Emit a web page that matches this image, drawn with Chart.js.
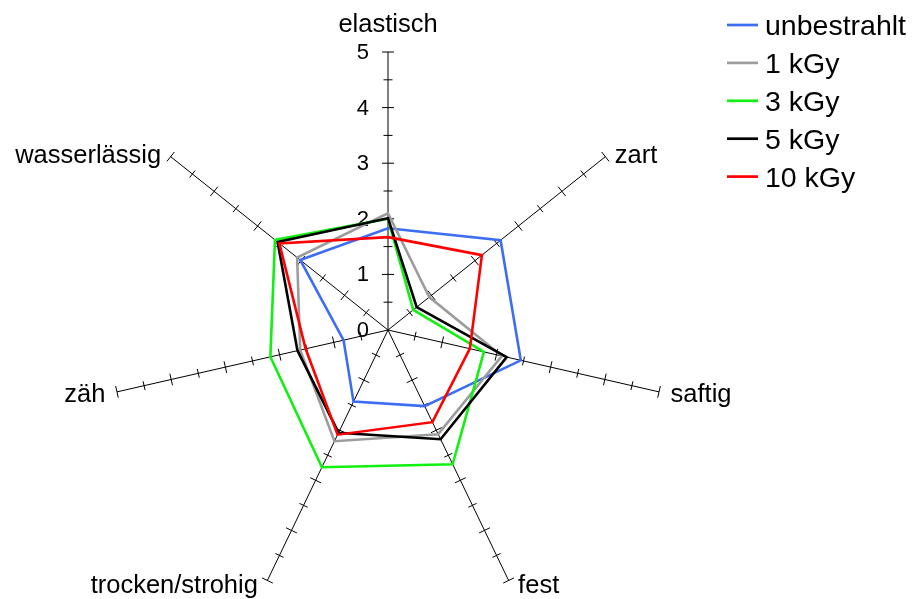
<!DOCTYPE html>
<html>
<head>
<meta charset="utf-8">
<script src="https://cdn.jsdelivr.net/npm/chart.js@4/dist/chart.umd.min.js"></script>
<style>
  html, body { margin: 0; padding: 0; background: #ffffff; }
  #wrap { width: 913px; height: 599px; }
</style>
</head>
<body>
<div id="wrap"><canvas id="c" width="913" height="599"></canvas></div>
<script>
// Sensory attributes (spokes, clockwise from the top)
const attributes = ['elastisch', 'zart', 'saftig', 'fest', 'trocken/strohig', 'zäh', 'wasserlässig'];

// Mean panel scores per irradiation dose
const seriesNames = ['unbestrahlt', '1 kGy', '3 kGy', '5 kGy', '10 kGy'];
const unbestrahlt = [1.83, 2.59, 2.45, 1.52, 1.43, 0.82, 2.02];
const dose1kGy    = [2.10, 0.95, 2.10, 2.08, 2.22, 1.62, 2.09];
const dose3kGy    = [2.00, 0.58, 1.77, 2.68, 2.74, 2.17, 2.60];
const dose5kGy    = [2.01, 0.66, 2.19, 2.18, 2.05, 1.67, 2.54];
const dose10kGy   = [1.67, 2.16, 1.51, 1.84, 2.09, 1.52, 2.50];

// Scale labels shown on the "elastisch" spoke
const tickValues = [0, 1, 2, 3, 4, 5];

const seriesValues = [unbestrahlt, dose1kGy, dose3kGy, dose5kGy, dose10kGy];
const seriesColors = ['#3d6df2', '#9c9c9c', '#12f012', '#000000', '#ff0000'];
// later doses are painted above earlier ones
const drawOrder = [4, 3, 2, 1, 0];

const FONT = '"Liberation Sans", Arial, Helvetica, sans-serif';

// Spoke decorations: tick marks, value labels, attribute names
const spokeDecor = {
  id: 'spokeDecor',
  beforeDatasetsDraw(chart) {
    const r = chart.scales.r;
    const ctx = chart.ctx;
    const n = attributes.length;
    ctx.save();
    ctx.strokeStyle = '#000';
    ctx.lineWidth = 1;
    // cross ticks every half unit on every spoke
    for (let i = 0; i < n; i++) {
      for (let k = 1; k <= r.max * 2; k++) {
        const v = k / 2;
        const p = r.getPointPositionForValue(i, v);
        const half = (k % 2 === 0) ? 6 : 4.5;
        const nx = -Math.sin(p.angle), ny = Math.cos(p.angle);
        ctx.beginPath();
        ctx.moveTo(p.x - nx * half, p.y - ny * half);
        ctx.lineTo(p.x + nx * half, p.y + ny * half);
        ctx.stroke();
      }
    }
    // numeric labels on the first spoke
    ctx.fillStyle = '#000';
    ctx.font = '22px ' + FONT;
    ctx.textAlign = 'right';
    ctx.textBaseline = 'middle';
    tickValues.forEach(v => {
      const p = r.getPointPositionForValue(0, v);
      ctx.fillText(String(v), p.x - 19, p.y + 1);
    });
    // attribute names at the spoke ends
    ctx.font = '25.5px ' + FONT;
    ctx.textBaseline = 'alphabetic';
    for (let i = 0; i < n; i++) {
      const p = r.getPointPosition(i, r.drawingArea);
      const c = Math.cos(p.angle), s = Math.sin(p.angle);
      if (Math.abs(c) < 0.1) {
        ctx.textAlign = 'center';
        ctx.fillText(attributes[i], p.x, p.y - 20);
      } else {
        ctx.textAlign = c > 0 ? 'left' : 'right';
        const gap = Math.abs(s) < 0.4 ? 11.5 : 9.5;
        ctx.fillText(attributes[i], p.x + (c > 0 ? gap : -gap), p.y + 9 + 4 * s);
      }
    }
    ctx.restore();
  },
  afterDraw(chart) {
    // legend: short coloured line followed by the dose name
    const ctx = chart.ctx;
    ctx.save();
    ctx.font = '28.5px ' + FONT;
    ctx.textAlign = 'left';
    ctx.textBaseline = 'alphabetic';
    chart.data.datasets.forEach((ds, i) => {
      const y = 25 + i * 37.9;
      const x0 = chart.width - 186;
      ctx.strokeStyle = ds.borderColor;
      ctx.lineWidth = 2.7;
      ctx.beginPath();
      ctx.moveTo(x0, y);
      ctx.lineTo(x0 + 31, y);
      ctx.stroke();
      ctx.fillStyle = '#000';
      ctx.fillText(ds.label, x0 + 38, y + 10);
    });
    ctx.restore();
  }
};

new Chart(document.getElementById('c'), {
  type: 'radar',
  data: {
    labels: attributes,
    datasets: seriesNames.map((name, i) => ({
      label: name,
      data: seriesValues[i],
      borderColor: seriesColors[i],
      backgroundColor: 'rgba(0,0,0,0)',
      borderWidth: 2.6,
      fill: false,
      tension: 0,
      pointRadius: 0,
      pointHoverRadius: 0,
      order: drawOrder[i]
    }))
  },
  options: {
    responsive: false,
    animation: false,
    devicePixelRatio: 1,
    layout: { padding: 0 },
    plugins: {
      legend: { display: false },
      tooltip: { enabled: false }
    },
    scales: {
      r: {
        min: 0,
        max: 5,
        grid: { display: false },
        angleLines: { display: true, color: '#000000', lineWidth: 1 },
        ticks: { display: false, stepSize: 0.5 },
        pointLabels: { display: false },
        afterFit(scale) {
          scale.xCenter = 388;
          scale.yCenter = 330;
          scale.drawingArea = 278;
        }
      }
    }
  },
  plugins: [spokeDecor]
});
</script>
</body>
</html>
